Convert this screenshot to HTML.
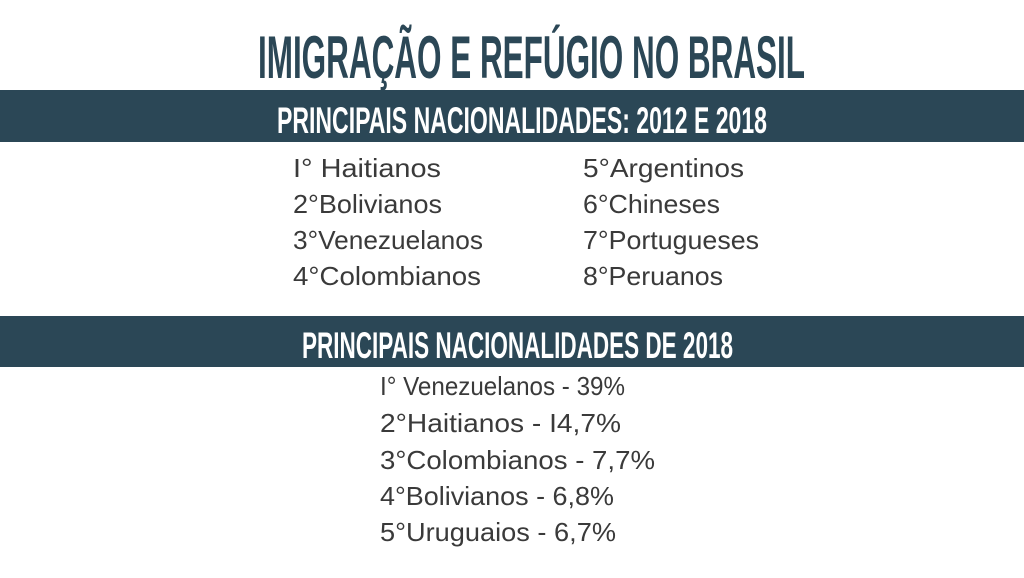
<!DOCTYPE html>
<html><head><meta charset="utf-8"><style>
html,body{margin:0;padding:0;background:#fff;width:1024px;height:578px;overflow:hidden}
svg{display:block}
.h{font-family:"Liberation Sans Narrow","Liberation Sans",sans-serif;font-weight:bold}
.b{font-family:"Liberation Sans",sans-serif;font-size:26px;fill:#3a3a3a}
</style></head><body>
<svg width="1024" height="578" viewBox="0 0 1024 578">
<rect width="1024" height="578" fill="#fff"/>
<text class="h" x="258" y="78" font-size="60" fill="#2b4756" textLength="547" lengthAdjust="spacingAndGlyphs">IMIGRAÇÃO E REFÚGIO NO BRASIL</text>
<rect x="0" y="90" width="1024" height="52" fill="#2b4756"/>
<text class="h" x="277" y="133" font-size="37" fill="#fff" textLength="490" lengthAdjust="spacingAndGlyphs">PRINCIPAIS NACIONALIDADES: 2012 E 2018</text>
<g>
<text class="b" x="293" y="177" textLength="148" lengthAdjust="spacingAndGlyphs">I° Haitianos</text>
<text class="b" x="293" y="213" textLength="149" lengthAdjust="spacingAndGlyphs">2°Bolivianos</text>
<text class="b" x="293" y="249" textLength="190" lengthAdjust="spacingAndGlyphs">3°Venezuelanos</text>
<text class="b" x="293" y="285" textLength="188" lengthAdjust="spacingAndGlyphs">4°Colombianos</text>
<text class="b" x="583" y="177" textLength="161" lengthAdjust="spacingAndGlyphs">5°Argentinos</text>
<text class="b" x="583" y="213" textLength="137" lengthAdjust="spacingAndGlyphs">6°Chineses</text>
<text class="b" x="583" y="249" textLength="176" lengthAdjust="spacingAndGlyphs">7°Portugueses</text>
<text class="b" x="583" y="285" textLength="140" lengthAdjust="spacingAndGlyphs">8°Peruanos</text>
</g>
<rect x="0" y="316" width="1024" height="51" fill="#2b4756"/>
<text class="h" x="302" y="358" font-size="37" fill="#fff" textLength="431" lengthAdjust="spacingAndGlyphs">PRINCIPAIS NACIONALIDADES DE 2018</text>
<g>
<text class="b" x="380" y="395" textLength="245" lengthAdjust="spacingAndGlyphs">I° Venezuelanos - 39%</text>
<text class="b" x="380" y="432" textLength="241" lengthAdjust="spacingAndGlyphs">2°Haitianos - I4,7%</text>
<text class="b" x="380" y="469" textLength="275" lengthAdjust="spacingAndGlyphs">3°Colombianos - 7,7%</text>
<text class="b" x="380" y="505" textLength="234" lengthAdjust="spacingAndGlyphs">4°Bolivianos - 6,8%</text>
<text class="b" x="380" y="541" textLength="236" lengthAdjust="spacingAndGlyphs">5°Uruguaios - 6,7%</text>
</g>
</svg>
</body></html>
